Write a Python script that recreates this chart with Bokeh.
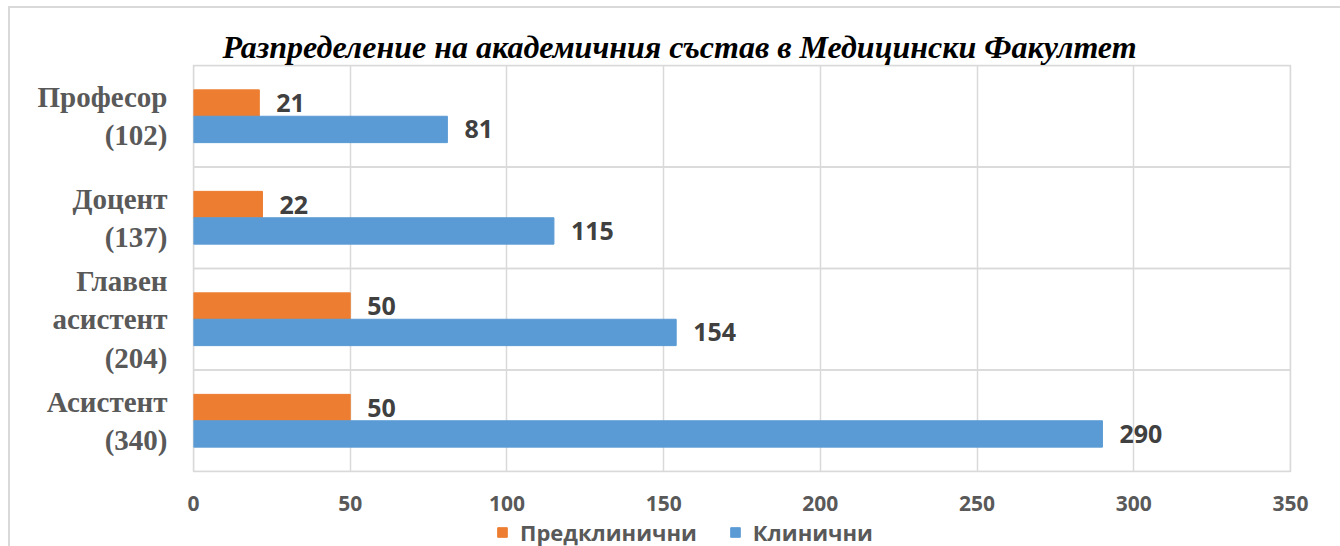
from bokeh.plotting import figure
from bokeh.layouts import column
from bokeh.models import (ColumnDataSource, FactorRange, Range1d, Legend, LegendItem,
                          FixedTicker, Title)
from bokeh.transform import dodge
from bokeh.core.properties import value
from bokeh.embed import file_html
from bokeh.resources import INLINE

# ---- data ----
categories = ["Професор", "Доцент", "Главен асистент", "Асистент"]
category_labels = ["Професор\n(102)", "Доцент\n(137)", "Главен\nасистент\n(204)", "Асистент\n(340)"]
preclinical = [21, 22, 50, 50]
clinical = [81, 115, 154, 290]
x_ticks = [0, 50, 100, 150, 200, 250, 300, 350]
series_names = ["Предклинични", "Клинични"]
title_text = "Разпределение на академичния състав в Медицински Факултет"

ORANGE = "#ED7D31"
BLUE = "#5B9BD5"
GRID = "#D9D9D9"
LABEL = "#404040"
AXIS_TXT = "#595959"

src = ColumnDataSource(dict(
    cat=category_labels,
    pre=preclinical,
    cli=clinical,
    pre_txt=[str(v) for v in preclinical],
    cli_txt=[str(v) for v in clinical],
    axis_max=[x_ticks[-1]] * len(categories),
))

p = figure(width=1330, height=510,
           y_range=FactorRange(factors=category_labels[::-1]),
           x_range=Range1d(x_ticks[0], x_ticks[-1]),
           output_backend="svg", toolbar_location=None,
           min_border_left=183, min_border_right=50,
           min_border_top=57, min_border_bottom=47)

p.outline_line_color = GRID
p.outline_line_width = 1.5
p.background_fill_color = "white"
p.border_fill_color = "white"

# grids
p.xgrid.ticker = FixedTicker(ticks=x_ticks)
p.xgrid.grid_line_color = GRID
p.xgrid.grid_line_width = 1.5
p.ygrid.grid_line_color = None
# category band outlines (separators between categories)
p.hbar(y="cat", left=0, right="axis_max", height=1.0, source=src,
       fill_color=None, line_color=GRID, line_width=1.5)

# bars
p.hbar(y=dodge("cat", 0.13, range=p.y_range), left=0, right="pre", height=0.26,
       fill_color=ORANGE, line_color=ORANGE, source=src)
p.hbar(y=dodge("cat", -0.13, range=p.y_range), left=0, right="cli", height=0.26,
       fill_color=BLUE, line_color=BLUE, source=src)

# value labels
for col, txt, off in (("pre", "pre_txt", 0.13), ("cli", "cli_txt", -0.13)):
    p.text(x=col, y=dodge("cat", off, range=p.y_range), text=txt, x_offset=17,
           text_baseline="middle", text_align="left",
           text_font=value("Open Sans"), text_font_style="bold", text_font_size="25px",
           text_color=LABEL, source=src)

# x axis
p.xaxis.ticker = FixedTicker(ticks=x_ticks)
p.xaxis.axis_line_color = None
p.xaxis.major_tick_line_color = None
p.xaxis.minor_tick_line_color = None
p.xaxis.major_label_standoff = 18
p.xaxis.major_label_text_font = "Open Sans"
p.xaxis.major_label_text_font_style = "bold"
p.xaxis.major_label_text_font_size = "21px"
p.xaxis.major_label_text_color = AXIS_TXT

# y axis
p.yaxis.axis_line_color = None
p.yaxis.major_tick_line_color = None
p.yaxis.minor_tick_line_color = None
p.yaxis.major_label_standoff = 20
p.yaxis.major_label_text_font = "Liberation Serif"
p.yaxis.major_label_text_font_style = "bold"
p.yaxis.major_label_text_font_size = "29px"
p.yaxis.major_label_text_color = AXIS_TXT

# title
p.title = Title(text=title_text, align="left", offset=29,
                text_font="Liberation Serif", text_font_style="bold italic",
                text_font_size="32px", text_color="black", standoff=2)

# ---- legend strip below the chart ----
leg = figure(width=1330, height=30,
             y_range=FactorRange(factors=category_labels[::-1]),
             x_range=Range1d(x_ticks[0], x_ticks[-1]),
             x_axis_location=None, y_axis_location=None,
             output_backend="svg", toolbar_location=None, min_border=0)
leg.outline_line_color = None
leg.background_fill_color = "white"
leg.border_fill_color = "white"
leg.xgrid.visible = False
leg.ygrid.visible = False
lr_pre = leg.hbar(y="cat", left=0, right="pre", height=0.26, fill_color=ORANGE,
                  line_color=ORANGE, source=src, visible=False)
lr_cli = leg.hbar(y="cat", left=0, right="cli", height=0.26, fill_color=BLUE,
                  line_color=BLUE, source=src, visible=False)
legend = Legend(items=[LegendItem(label=series_names[0], renderers=[lr_pre]),
                       LegendItem(label=series_names[1], renderers=[lr_cli])],
                orientation="horizontal", location=(303, 1),
                label_text_font="Open Sans", label_text_font_style="bold",
                label_text_font_size="22px", label_text_color=AXIS_TXT,
                glyph_width=12, glyph_height=12, label_standoff=12, spacing=32,
                border_line_color=None, background_fill_alpha=0,
                padding=0, margin=0)
leg.add_layout(legend, "center")

layout = column(p, leg, spacing=0)
layout.styles = {"outline": "2px solid #D9D9D9", "margin-left": "10px", "margin-top": "8px"}

open("out.html", "w").write(file_html(layout, INLINE))
